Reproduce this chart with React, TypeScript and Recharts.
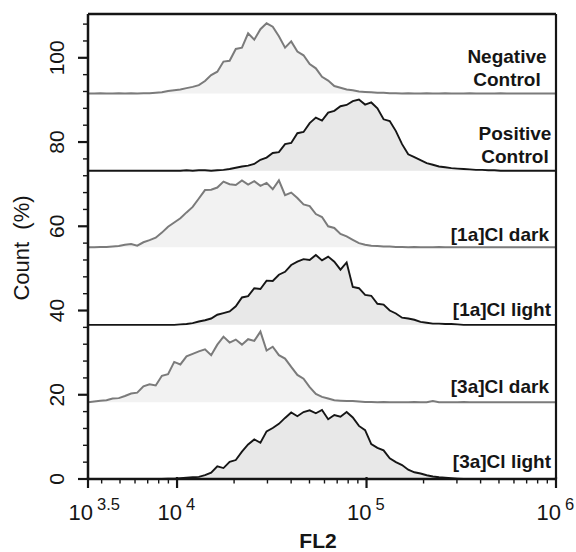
import React from 'react';
import { ComposedChart, Area, Line, XAxis, YAxis, ReferenceLine } from 'recharts';

// Samples, top panel to bottom panel
const SAMPLES = ['Negative Control', 'Positive Control', '[1a]Cl dark', '[1a]Cl light', '[3a]Cl dark', '[3a]Cl light'];
// Vertical offset (Count %) of each stacked histogram baseline
const OFFSETS = [91.5, 73.2, 55.0, 36.6, 18.2, 0];
// Log-spaced FL2 bins: log10 start and step
const LOG_MIN = 3.53;
const LOG_STEP = 0.0325;
const Y_MAX = 110.4;

// Histogram heights (Count %) per bin
const NEG = [
  0, 0, 0.1, 0, 0, 0.1, 0, 0.1, 0, 0.1,
  0.1, 0.2, 0.3, 0.6, 0.8, 1.0, 1.3, 1.6, 2.0, 3.0,
  4.4, 5.2, 7.6, 7.8, 10.6, 10.9, 14.3, 12.8, 15.3, 16.7,
  15.9, 13.6, 10.9, 12.4, 10.0, 9.1, 7.0, 6.0, 4.0, 3.1,
  1.8, 1.4, 1.0, 0.8, 0.5, 0.4, 0.3, 0.2, 0.2, 0.1,
  0.1, 0, 0.1, 0, 0, 0.1, 0, 0, 0.1, 0,
  0, 0, 0.1, 0, 0, 0, 0, 0.1, 0, 0,
  0, 0, 0, 0, 0, 0, 0,
];
const POS = [
  0, 0, 0, 0, 0, 0, 0, 0, 0, 0,
  0, 0, 0, 0, 0, 0, 0.1, 0, 0.1, 0.1,
  0, 0.1, 0.2, 0.4, 0.7, 1.0, 1.2, 1.6, 2.6, 3.1,
  4.2, 4.4, 6.3, 6.6, 8.9, 9.2, 11.3, 12.6, 11.9, 13.8,
  14.2, 15.3, 15.6, 16.5, 16.9, 15.7, 16.2, 14.8, 12.2, 11.8,
  9.4, 6.3, 3.9, 3.2, 2.5, 1.8, 1.4, 1.0, 0.8, 0.6,
  0.5, 0.4, 0.3, 0.2, 0.2, 0.1, 0.1, 0, 0, 0,
  0, 0, 0, 0, 0, 0, 0,
];
const DARK_1A = [
  0, 0, 0.1, 0.1, 0.2, 0.3, 0.6, 0.8, 0.4, 1.2,
  1.7, 2.3, 3.5, 4.9, 5.9, 6.9, 8.3, 9.6, 11.6, 13.6,
  13.7, 14.2, 15.6, 15.0, 14.8, 15.9, 14.9, 15.7, 14.6, 15.3,
  13.8, 15.9, 12.4, 13.0, 11.7, 10.2, 9.8, 7.9, 7.2, 5.0,
  4.6, 3.2, 2.6, 1.8, 1.0, 0.6, 0.4, 0.3, 0.2, 0.2,
  0.1, 0.1, 0, 0.1, 0, 0, 0, 0.1, 0, 0,
  0, 0, 0, 0, 0, 0, 0, 0, 0, 0,
  0, 0, 0, 0, 0, 0, 0,
];
const LIGHT_1A = [
  0, 0, 0, 0, 0, 0, 0, 0, 0, 0,
  0, 0, 0, 0, 0, 0.1, 0.2, 0.4, 0.8, 1.1,
  1.5, 2.4, 2.8, 3.2, 4.4, 6.5, 6.8, 8.7, 8.5, 10.5,
  10.4, 11.9, 12.6, 14.2, 15.0, 15.6, 15.4, 16.6, 15.3, 16.2,
  15.0, 13.1, 14.8, 9.0, 8.7, 7.1, 6.9, 5.0, 4.8, 3.4,
  2.7, 1.7, 1.5, 1.2, 0.7, 0.5, 0.3, 0.3, 0.2, 0.2,
  0.1, 0, 0, 0, 0, 0, 0, 0, 0, 0,
  0, 0, 0, 0, 0, 0, 0,
];
const DARK_3A = [
  0, 0.2, 0.4, 0.5, 0.9, 1.0, 1.5, 2.1, 2.3, 3.8,
  4.3, 4.0, 6.3, 6.7, 9.6, 9.0, 10.9, 11.5, 12.1, 12.6,
  11.2, 13.7, 15.6, 14.2, 14.9, 13.7, 15.0, 14.6, 16.8, 12.3,
  13.2, 11.2, 10.4, 8.4, 6.5, 5.6, 3.6, 2.0, 1.3, 0.9,
  0.5, 0.4, 0.3, 0.3, 0.2, 0.1, 0.1, 0, 0.1, 0,
  0, 0, 0, 0.1, 0, 0, 0.3, 0, 0, 0,
  0, 0.1, 0, 0, 0, 0, 0, 0, 0, 0,
  0, 0, 0, 0, 0, 0, 0,
];
const LIGHT_3A = [
  0, 0, 0, 0, 0, 0, 0, 0, 0, 0,
  0, 0, 0, 0.1, 0.1, 0.2, 0.3, 0.4, 0.5, 0.9,
  1.5, 3.0, 2.6, 4.1, 4.5, 6.5, 8.2, 9.4, 8.6, 11.3,
  12.1, 13.1, 14.5, 15.8, 14.9, 15.9, 16.3, 15.6, 16.4, 14.2,
  15.2, 14.8, 15.9, 14.6, 12.6, 11.6, 8.3, 7.4, 6.8, 4.9,
  4.0, 3.3, 2.2, 1.6, 1.3, 0.9, 0.6, 0.4, 0.3, 0.2,
  0.1, 0, 0, 0, 0, 0, 0, 0, 0, 0,
  0, 0, 0, 0, 0, 0, 0,
];

const SERIES = [NEG, POS, DARK_1A, LIGHT_1A, DARK_3A, LIGHT_3A];
const IS_DARK = [true, false, true, false, true, false];

// Axis ticks
const X_MAJOR = [Math.pow(10, LOG_MIN), 1e4, 1e5, 1e6];
const X_MAJOR_EXP = ['3.5', '4', '5', '6'];
const X_MINOR = [4e3, 5e3, 6e3, 7e3, 8e3, 9e3, 2e4, 3e4, 4e4, 5e4, 6e4, 7e4, 8e4, 9e4, 2e5, 3e5, 4e5, 5e5, 6e5, 7e5, 8e5, 9e5];
const Y_MAJOR = [0, 20, 40, 60, 80, 100];
const Y_MINOR = [4, 8, 12, 16, 24, 28, 32, 36, 44, 48, 52, 56, 64, 68, 72, 76, 84, 88, 92, 96, 104, 108];

const FONT = 'Liberation Sans, Arial, Helvetica, sans-serif';
const INK = '#151515';

// styles
const LINE_COLORS = { dark: '#7b7b7b', light: '#161616' };
const FILL_COLORS = { dark: '#f2f2f2', light: '#e8e8e8' };
const LABEL_LAYOUT = [
  { lines: ['Negative', 'Control'], x: 507, anchor: 'middle', lift: 7.5 },
  { lines: ['Positive', 'Control'], x: 515, anchor: 'middle', lift: 7.5 },
  { lines: ['[1a]Cl dark'], x: 549, anchor: 'end', lift: 6.8 },
  { lines: ['[1a]Cl light'], x: 551, anchor: 'end', lift: 8.6 },
  { lines: ['[3a]Cl dark'], x: 549, anchor: 'end', lift: 9 },
  { lines: ['[3a]Cl light'], x: 551, anchor: 'end', lift: 10.6 },
];

const nBins = Math.max(...SERIES.map((s) => s.length));
const DATA = Array.from({ length: nBins }, (_, i) => {
  const row: any = { fl2: Math.pow(10, LOG_MIN + i * LOG_STEP) };
  SERIES.forEach((s, k) => {
    const h = s[i] ?? 0;
    row[`r${k}`] = [OFFSETS[k], OFFSETS[k] + h];
    row[`y${k}`] = OFFSETS[k] + h;
  });
  return row;
});

const isMajorX = (v: number) => X_MAJOR.findIndex((m) => Math.abs(Math.log10(m) - Math.log10(v)) < 1e-6);

const XTick = (props: any) => {
  const { x, y, payload } = props;
  const idx = isMajorX(payload.value);
  if (idx < 0) {
    return <line x1={x} x2={x} y1={y} y2={y + 4.5} stroke={INK} strokeWidth={1.4} />;
  }
  return (
    <g>
      <line x1={x} x2={x} y1={y - 2} y2={y + 9} stroke={INK} strokeWidth={2.2} />
      <text x={x + 5} y={y + 41} textAnchor="end" fontSize={22} fontFamily={FONT} fill={INK}>10</text>
      <text x={x + 9} y={y + 31} textAnchor="start" fontSize={16.5} fontFamily={FONT} fill={INK}>{X_MAJOR_EXP[idx]}</text>
    </g>
  );
};

const YTick = (props: any) => {
  const { x, y, payload } = props;
  const v = payload.value;
  if (!Y_MAJOR.includes(v)) {
    return <line x1={x - 5} x2={x} y1={y} y2={y} stroke={INK} strokeWidth={1.4} />;
  }
  const tx = x - 24;
  return (
    <g>
      <line x1={x - 10} x2={x} y1={y} y2={y} stroke={INK} strokeWidth={2.2} />
      <text x={tx} y={y} textAnchor="middle" fontSize={21} fontFamily={FONT} fill={INK} transform={`rotate(-90, ${tx}, ${y})`}>{v}</text>
    </g>
  );
};

const PanelLabel = (k: number) => (props: any) => {
  const vb = props.viewBox || {};
  const baseY = vb.y;
  const L = LABEL_LAYOUT[k];
  const n = L.lines.length;
  return (
    <g>
      {L.lines.map((t, j) => (
        <text key={j} x={L.x} y={baseY - L.lift - (n - 1 - j) * 22.7} textAnchor={L.anchor as any}
          fontSize={19} fontWeight="bold" fontFamily={FONT} fill={INK}>{t}</text>
      ))}
    </g>
  );
};

export default function App() {
  return (
    <div style={{ position: 'absolute', left: 0, top: 0, width: 576, height: 552, background: '#fff' }}>
      <ComposedChart width={576} height={552} data={DATA} margin={{ top: 14, right: 20, bottom: 43, left: 28 }}>
        <XAxis
          dataKey="fl2"
          type="number"
          scale="log"
          domain={[Math.pow(10, LOG_MIN), 1e6]}
          allowDataOverflow
          ticks={[...X_MAJOR, ...X_MINOR]}
          interval={0}
          tickSize={0}
          tickMargin={0}
          tickLine={false}
          tick={<XTick />}
          axisLine={{ stroke: INK, strokeWidth: 2.5 }}
          height={30}
          label={() => (
            <text x={318} y={548} textAnchor="middle" fontSize={21} fontWeight="bold" fontFamily={FONT} fill={INK}>FL2</text>
          )}
        />
        <YAxis
          type="number"
          domain={[0, Y_MAX]}
          allowDataOverflow
          ticks={[...Y_MAJOR, ...Y_MINOR]}
          interval={0}
          tickSize={0}
          tickMargin={0}
          tickLine={false}
          tick={<YTick />}
          axisLine={{ stroke: INK, strokeWidth: 2.5 }}
          width={60}
          label={() => (
            <text x={28.5} y={248} textAnchor="middle" fontSize={22} fontFamily={FONT} fill={INK} transform="rotate(-90, 28.5, 248)">{'Count\u00A0 (%)'}</text>
          )}
        />
        {SERIES.map((_, k) => (
          <Area key={`a${k}`} type="linear" dataKey={`r${k}`} stroke="none"
            fill={IS_DARK[k] ? FILL_COLORS.dark : FILL_COLORS.light} fillOpacity={1}
            isAnimationActive={false} dot={false} activeDot={false} />
        ))}
        {SERIES.map((_, k) => (
          <Line key={`l${k}`} type="linear" dataKey={`y${k}`}
            stroke={IS_DARK[k] ? LINE_COLORS.dark : LINE_COLORS.light}
            strokeWidth={IS_DARK[k] ? 2 : 1.9} dot={false} activeDot={false}
            isAnimationActive={false} />
        ))}
        {SAMPLES.map((name, k) => (
          <ReferenceLine key={`lab${k}`} y={OFFSETS[k]} stroke="none" label={PanelLabel(k)} />
        ))}
        <ReferenceLine y={Y_MAX} stroke={INK} strokeWidth={2.5} />
        <ReferenceLine x={1e6} stroke={INK} strokeWidth={2.2} />
      </ComposedChart>
    </div>
  );
}
